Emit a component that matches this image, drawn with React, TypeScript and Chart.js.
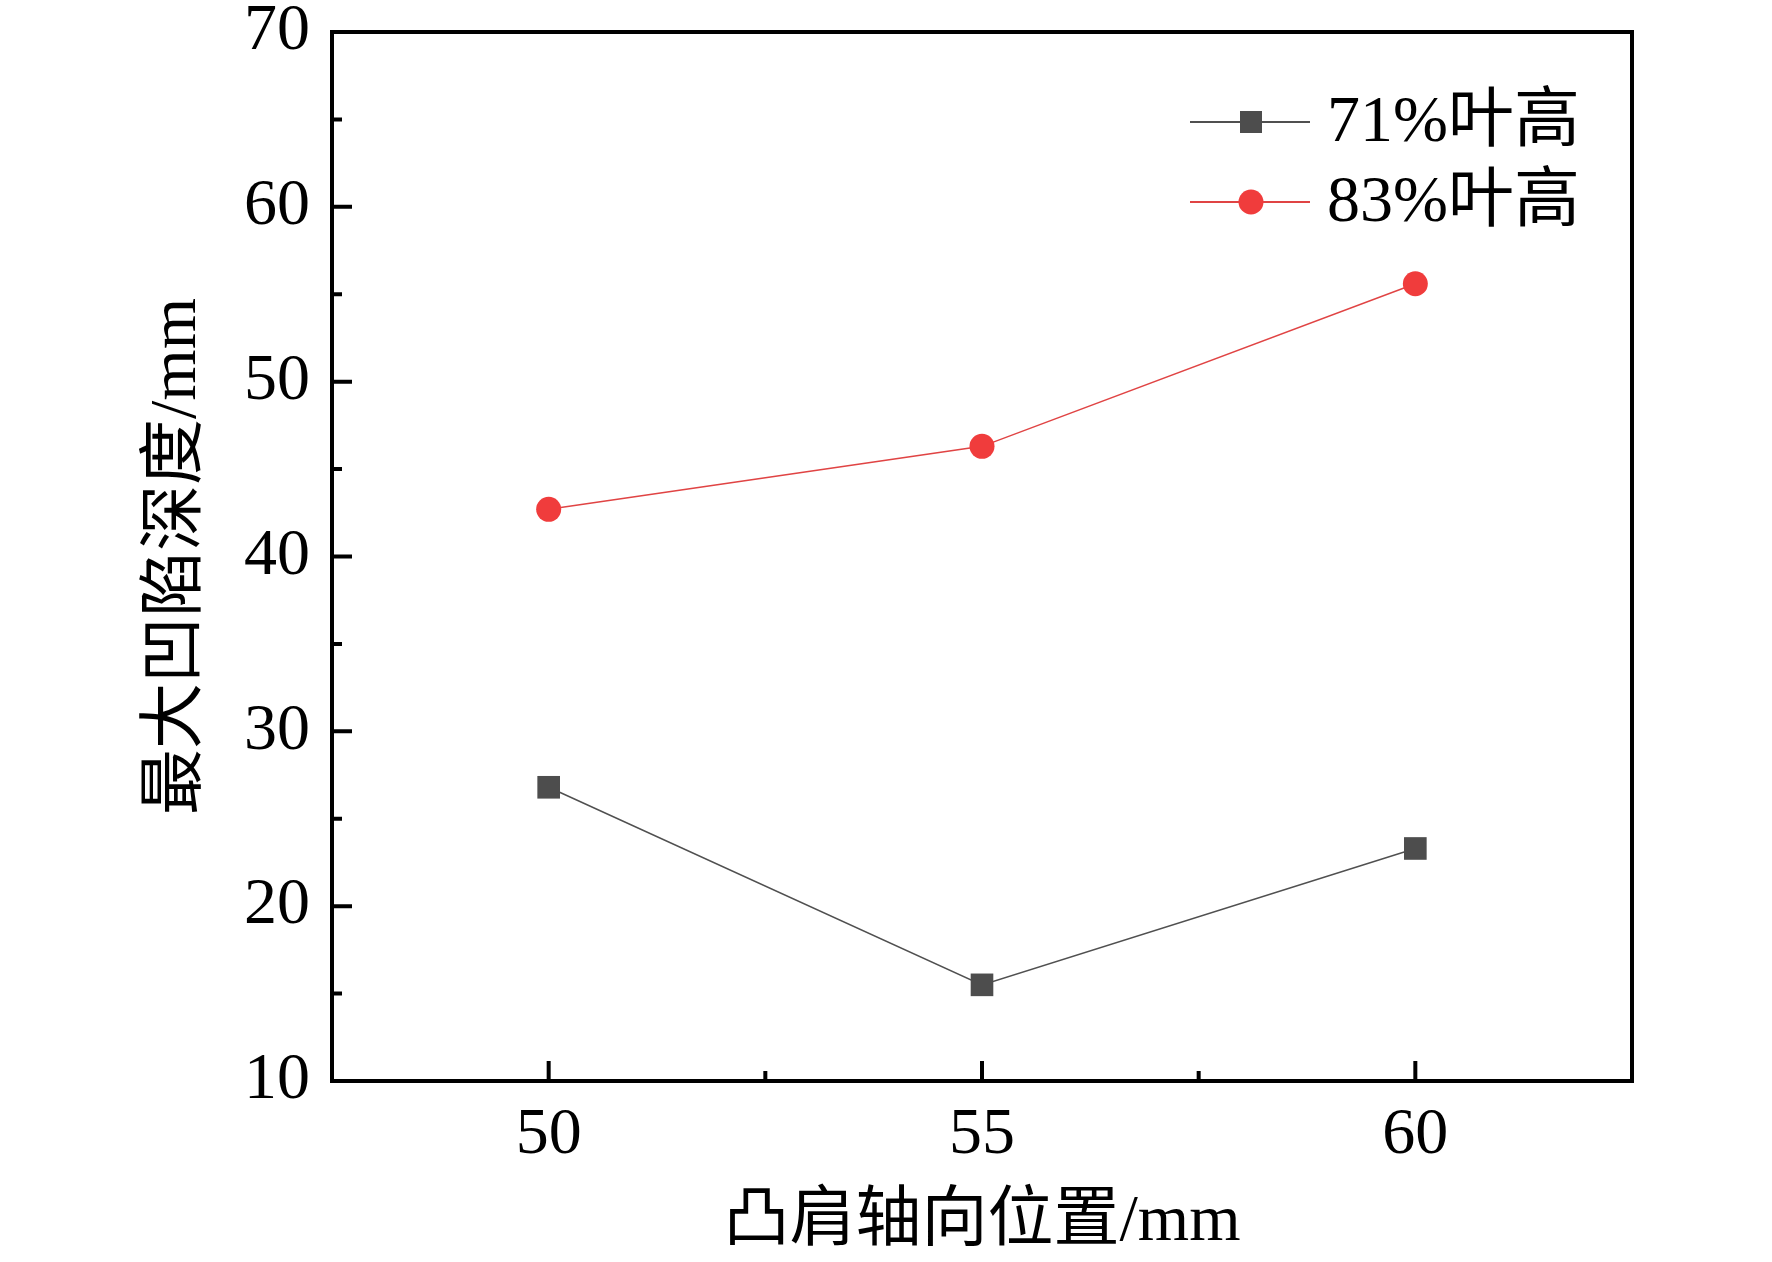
import React, { useEffect, useRef } from "react";
import { Chart, registerables } from "chart.js";

Chart.register(...registerables);

// ---- data ----
const xPositions = [50, 55, 60];
const depth71 = [26.8, 15.5, 23.3];
const depth83 = [42.7, 46.3, 55.6];
const seriesLabels = ["71%叶高", "83%叶高"];
const xTickValues = [50, 55, 60];
const xMinorTicks = [52.5, 57.5];
const yTickValues = [10, 20, 30, 40, 50, 60, 70];
const yMinorTicks = [15, 25, 35, 45, 55, 65];
const xTitle = "凸肩轴向位置/mm";
const yTitle = "最大凹陷深度/mm";

const LATIN = '"Liberation Serif", "Times New Roman", serif';
const MIXED = '"Liberation Serif", "Noto Sans CJK SC", serif';

const frameAndLegend = {
  id: "frameAndLegend",
  afterDraw(chart: any) {
    const { ctx, chartArea: a, scales } = chart;
    const x = scales.x;
    const y = scales.y;
    ctx.save();
    ctx.strokeStyle = "#000";
    ctx.lineWidth = 4;
    ctx.lineCap = "butt";
    ctx.beginPath();
    yTickValues.forEach((v) => {
      const p = y.getPixelForValue(v);
      ctx.moveTo(a.left, p);
      ctx.lineTo(a.left + 20, p);
    });
    yMinorTicks.forEach((v) => {
      const p = y.getPixelForValue(v);
      ctx.moveTo(a.left, p);
      ctx.lineTo(a.left + 10, p);
    });
    xTickValues.forEach((v) => {
      const p = x.getPixelForValue(v);
      ctx.moveTo(p, a.bottom);
      ctx.lineTo(p, a.bottom - 20);
    });
    xMinorTicks.forEach((v) => {
      const p = x.getPixelForValue(v);
      ctx.moveTo(p, a.bottom);
      ctx.lineTo(p, a.bottom - 10);
    });
    ctx.stroke();
    ctx.strokeRect(a.left, a.top, a.right - a.left, a.bottom - a.top);

    // legend
    chart.data.datasets.forEach((ds: any, i: number) => {
      const cy = a.top + 90 + i * 80;
      const x0 = a.right - 442;
      const x1 = a.right - 322;
      const mx = a.right - 381;
      ctx.strokeStyle = ds.borderColor;
      ctx.lineWidth = 2;
      ctx.beginPath();
      ctx.moveTo(x0, cy);
      ctx.lineTo(x1, cy);
      ctx.stroke();
      ctx.fillStyle = ds.pointBackgroundColor;
      if (ds.pointStyle === "rect") {
        ctx.fillRect(mx - 11, cy - 11, 22, 22);
      } else {
        ctx.beginPath();
        ctx.arc(mx, cy, 12.5, 0, Math.PI * 2);
        ctx.fill();
      }
      ctx.fillStyle = "#000";
      ctx.font = `66px ${MIXED}`;
      ctx.textAlign = "left";
      ctx.textBaseline = "middle";
      ctx.fillText(ds.label, a.right - 305, cy + 2);
    });
    ctx.restore();
  },
};

export default function App() {
  const ref = useRef<HTMLCanvasElement | null>(null);

  useEffect(() => {
    document.body.style.margin = "0";
    const canvas = ref.current;
    if (!canvas) return;
    const chart = new Chart(canvas, {
      type: "line",
      data: {
        datasets: [
          {
            label: seriesLabels[0],
            data: xPositions.map((v, i) => ({ x: v, y: depth71[i] })),
            borderColor: "#505050",
            borderWidth: 1.5,
            pointStyle: "rect",
            pointRadius: 16,
            pointBackgroundColor: "#4d4d4d",
            pointBorderWidth: 0,
            fill: false,
            tension: 0,
          },
          {
            label: seriesLabels[1],
            data: xPositions.map((v, i) => ({ x: v, y: depth83[i] })),
            borderColor: "#e04444",
            borderWidth: 1.5,
            pointStyle: "circle",
            pointRadius: 12.5,
            pointBackgroundColor: "#f03c3c",
            pointBorderWidth: 0,
            fill: false,
            tension: 0,
          },
        ],
      },
      options: {
        animation: false,
        responsive: false,
        devicePixelRatio: 1,
        layout: { padding: { top: 32, right: 140, left: 0, bottom: 0 } },
        plugins: {
          legend: { display: false },
          tooltip: { enabled: false },
        },
        scales: {
          x: {
            type: "linear",
            min: 47.5,
            max: 62.5,
            afterBuildTicks: (s: any) => {
              s.ticks = xTickValues.map((v) => ({ value: v }));
            },
            afterFit: (s: any) => {
              s.height = 181;
              s.paddingLeft = 0;
              s.paddingRight = 0;
            },
            grid: { display: false, drawTicks: false },
            border: { display: false },
            ticks: {
              color: "#000",
              padding: 15,
              maxRotation: 0,
              font: { family: LATIN, size: 66 },
            },
            title: {
              display: true,
              text: xTitle,
              color: "#000",
              font: { family: MIXED, size: 66 },
              padding: { top: 0, bottom: 0 },
            },
          },
          y: {
            type: "linear",
            min: 10,
            max: 70,
            afterBuildTicks: (s: any) => {
              s.ticks = yTickValues.map((v) => ({ value: v }));
            },
            afterFit: (s: any) => {
              s.width = 332;
              s.paddingTop = 0;
              s.paddingBottom = 0;
            },
            grid: { display: false, drawTicks: false },
            border: { display: false },
            ticks: {
              color: "#000",
              padding: 22,
              font: { family: LATIN, size: 66 },
            },
            title: {
              display: true,
              text: yTitle,
              color: "#000",
              font: { family: MIXED, size: 66 },
              padding: { top: 138, bottom: 0 },
            },
          },
        },
      },
      plugins: [frameAndLegend],
    });
    return () => chart.destroy();
  }, []);

  return (
    <div style={{ position: "absolute", left: 0, top: 0, width: 1772, height: 1262, background: "#fff" }}>
      <canvas ref={ref} width={1772} height={1262} style={{ display: "block", width: 1772, height: 1262 }} />
    </div>
  );
}
